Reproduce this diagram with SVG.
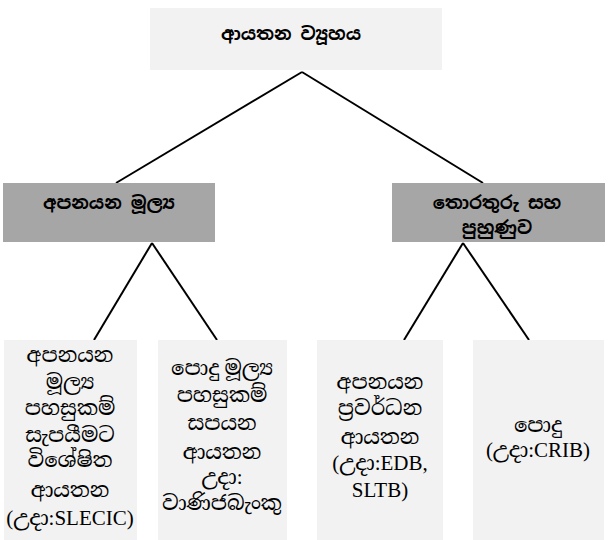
<svg xmlns="http://www.w3.org/2000/svg" width="609" height="540" viewBox="0 0 609 540">
<style>
.light{fill:#f2f2f2}
.dark{fill:#a6a6a6}
.t{font-family:"Noto Sans Sinhala","Noto Serif Sinhala","Iskoola Pota","Liberation Serif",serif;font-size:18px;fill:#000;text-anchor:middle}
.s{font-family:"Liberation Serif","Noto Serif Sinhala","Noto Sans Sinhala","Iskoola Pota",serif;font-size:21px}
.b{font-weight:bold}
.c{stroke:#000;stroke-width:2;fill:none}
</style>
<rect width="609" height="540" fill="#fff"/>
<g id="connectors">
<line class="c" x1="302" y1="72" x2="116" y2="183"/>
<line class="c" x1="302" y1="72" x2="483" y2="183"/>
<line class="c" x1="152" y1="243" x2="94" y2="340"/>
<line class="c" x1="152" y1="243" x2="217" y2="340"/>
<line class="c" x1="463" y1="243" x2="404" y2="340"/>
<line class="c" x1="463" y1="243" x2="529" y2="340"/>
</g>
<g id="root">
<rect class="light" x="150" y="8" width="292" height="62"/>
<text class="t b" x="291" y="40">ආයතන ව්‍යූහය</text>
</g>
<g id="export-finance">
<rect class="dark" x="3" y="183" width="212" height="59"/>
<text class="t b" x="109" y="209">අපනයන මූල්‍ය</text>
</g>
<g id="info-training">
<rect class="dark" x="392" y="183" width="213" height="59"/>
<text class="t b" x="497" y="209">තොරතුරු සහ</text>
<text class="t b" x="497" y="234">පුහුණුව</text>
</g>
<g id="specialized">
<rect class="light" x="4" y="340" width="133" height="200"/>
<text class="t s" x="70" y="362">අපනයන</text>
<text class="t s" x="70" y="389">මූල්‍ය</text>
<text class="t s" x="70" y="415">පහසුකම්</text>
<text class="t s" x="70" y="442">සැපයීමට</text>
<text class="t s" x="70" y="467">විශේෂිත</text>
<text class="t s" x="70" y="497">ආයතන</text>
<text class="t s" x="70" y="525">(උදා:SLECIC)</text>
</g>
<g id="general-finance">
<rect class="light" x="158" y="340" width="129" height="200"/>
<text class="t s" x="222" y="375">පොදු මූල්‍ය</text>
<text class="t s" x="222" y="402">පහසුකම්</text>
<text class="t s" x="222" y="430">සපයන</text>
<text class="t s" x="222" y="459">ආයතන</text>
<text class="t s" x="222" y="484">උදා:</text>
<text class="t s" x="222" y="510">වාණිජබැංකු</text>
</g>
<g id="promotion">
<rect class="light" x="317" y="340" width="126" height="200"/>
<text class="t s" x="380" y="389">අපනයන</text>
<text class="t s" x="380" y="415">ප්‍රවර්ධන</text>
<text class="t s" x="380" y="444">ආයතන</text>
<text class="t s" x="380" y="470">(උදා:EDB,</text>
<text class="t s" x="380" y="497">SLTB)</text>
</g>
<g id="general">
<rect class="light" x="473" y="340" width="131" height="200"/>
<text class="t s" x="538" y="432">පොදු</text>
<text class="t s" x="538" y="457">(උදා:CRIB)</text>
</g>
</svg>
